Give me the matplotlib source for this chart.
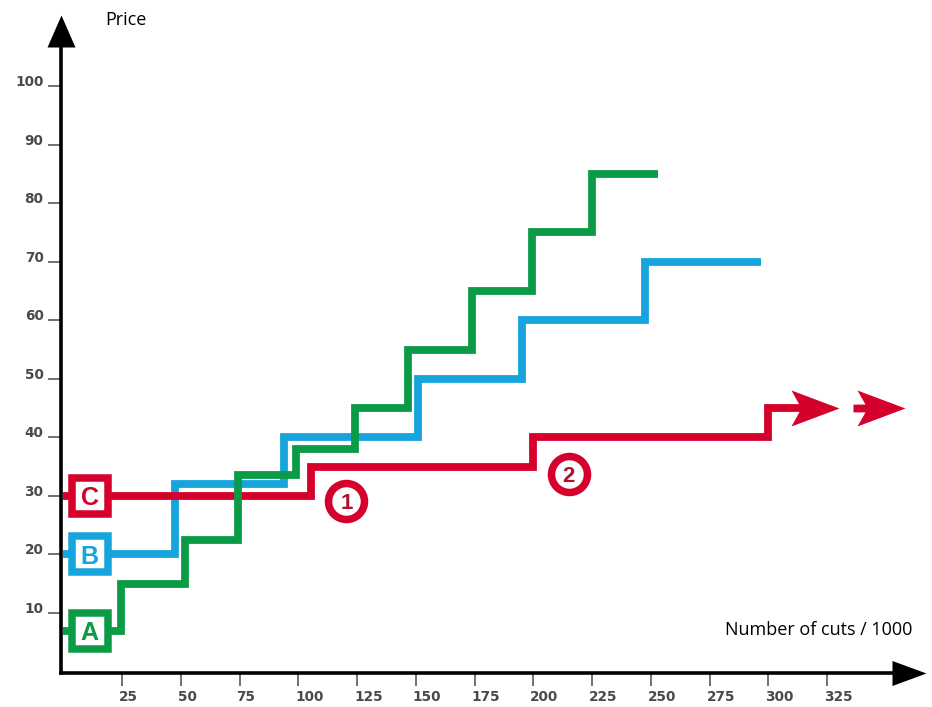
import matplotlib
matplotlib.use("Agg")
import matplotlib.pyplot as plt
from matplotlib.path import Path
from matplotlib.markers import MarkerStyle
from matplotlib.transforms import ScaledTranslation

# ---------------- data ----------------
green_x = [0, 24.5, 52, 74.5, 99, 124, 146.5, 174, 199.5, 225, 253]
green_y = [7, 15, 22.5, 33.5, 38, 45, 55, 65, 75, 85, 85]
blue_x = [0, 47.5, 94, 151, 195, 247.5, 297]
blue_y = [20, 32, 40, 50, 60, 70, 70]
red_x = [0, 105.5, 200, 300, 314.5]
red_y = [30, 35, 40, 45, 45]

series_labels = ["A", "B", "C"]
label_box_x = 11.2

arrow_tips_x = [330, 358]

marker_labels = ["1", "2"]
marker_x = [120.5, 215]
marker_y = [29.2, 33.7]

x_ticks = [25, 50, 75, 100, 125, 150, 175, 200, 225, 250, 275, 300, 325]
y_ticks = [10, 20, 30, 40, 50, 60, 70, 80, 90, 100]

GREEN = "#0b9a45"
BLUE = "#16a4dd"
RED = "#d5002b"
TICKC = "#4a4a4a"

# ---------------- figure ----------------
fig = plt.figure(figsize=(9.32, 7.07), dpi=100)
ax = fig.add_axes([0.0603, 0.0335, 0.9332, 0.9451])
ax.set_xlim(-3, 367.1)
ax.set_ylim(-2, 112.1)

for s in ["top", "right"]:
    ax.spines[s].set_visible(False)
ax.spines["left"].set_position(("data", -1))
ax.spines["bottom"].set_position(("data", -0.25))
ax.spines["left"].set_linewidth(2.6)
ax.spines["bottom"].set_linewidth(2.6)
ax.spines["left"].set_bounds(-0.25, 108)
ax.spines["bottom"].set_bounds(-1, 356)

ax.set_xticks(x_ticks)
ax.set_xticklabels([str(v) for v in x_ticks], ha="left")
ax.set_yticks(y_ticks)
ax.set_yticklabels([str(v) for v in y_ticks], va="baseline")
ax.tick_params(axis="y", direction="out", length=9.5, width=1.1, pad=3,
               color=TICKC, labelcolor=TICKC, labelsize=9.8)
ax.tick_params(axis="x", direction="out", length=9, width=1.1, pad=3.5,
               color=TICKC, labelcolor=TICKC, labelsize=9.8)
for lab in ax.get_xticklabels() + ax.get_yticklabels():
    lab.set_fontweight("bold")
    lab.set_fontfamily("DejaVu Sans")
off = ScaledTranslation(-3 / 100, 0, fig.dpi_scale_trans)
for lab in ax.get_xticklabels():
    lab.set_transform(lab.get_transform() + off)


def poly_marker(verts):
    verts = list(verts) + [verts[0]]
    codes = [Path.MOVETO] + [Path.LINETO] * (len(verts) - 2) + [Path.CLOSEPOLY]
    return Path(verts, codes)


PT = 72 / 100.0  # points per pixel

# axis arrowheads
yarrow = poly_marker([(0, 0), (-14, -32), (14, -32)])
xarrow = poly_marker([(0, 0), (-34, 12.5), (-34, -12.5)])
ax.plot([-1], [112.1], marker=yarrow, ms=64 * PT, color="black", mew=0,
        clip_on=False, zorder=10)
ax.plot([367.1], [-0.25], marker=xarrow, ms=68 * PT, color="black", mew=0,
        clip_on=False, zorder=10)

# step lines
lw = 5.6
common = dict(where="post", lw=lw, solid_joinstyle="miter", solid_capstyle="butt")
ax.step(blue_x, blue_y, color=BLUE, zorder=2, **common)
ax.step(red_x, red_y, color=RED, zorder=3, **common)
ax.step(green_x, green_y, color=GREEN, zorder=4, **common)

# red arrowheads
head1 = poly_marker([(0, 0), (-48, 18), (-38, 0), (-48, -18)])
head2 = poly_marker([(0, 0), (-48, 18), (-40, 3.9), (-52, 3.9), (-52, -3.9),
                     (-40, -3.9), (-48, -18)])
ax.plot([arrow_tips_x[0]], [red_y[-1]], marker=head1, ms=96 * PT, color=RED,
        mew=0, zorder=3)
ax.plot([arrow_tips_x[1]], [red_y[-1]], marker=head2, ms=104 * PT, color=RED,
        mew=0, zorder=3)

# series label boxes
sq = MarkerStyle("s", joinstyle="miter")
for lab, yv, col in zip(series_labels, [green_y[0], blue_y[0], red_y[0]],
                        [GREEN, BLUE, RED]):
    ax.plot([label_box_x], [yv], marker=sq, ms=36 * PT, mfc="white", mec=col,
            mew=7.5 * PT, zorder=6, clip_on=False)
    ax.text(label_box_x, yv, lab, ha="center", va="center_baseline",
            fontsize=18, fontweight="bold", color=col,
            family="Liberation Sans", zorder=7)

# numbered circles
for lab, xv, yv in zip(marker_labels, marker_x, marker_y):
    ax.plot([xv], [yv], marker="o", ms=36 * PT, mfc="white", mec=RED,
            mew=7.5 * PT, zorder=6)
    ax.text(xv, yv, lab, ha="center", va="center_baseline", fontsize=16,
            fontweight="bold", color="#b3102c", family="Liberation Sans",
            zorder=7)

# axis titles
fig.text(105 / 932, 1 - 20 / 707, "Price", ha="left", va="center",
         fontsize=13, family="Open Sans", color="black")
fig.text(912 / 932, 1 - 630 / 707, "Number of cuts / 1000", ha="right",
         va="center", fontsize=13, family="Open Sans", color="black")

fig.savefig("out.png", dpi=100)
